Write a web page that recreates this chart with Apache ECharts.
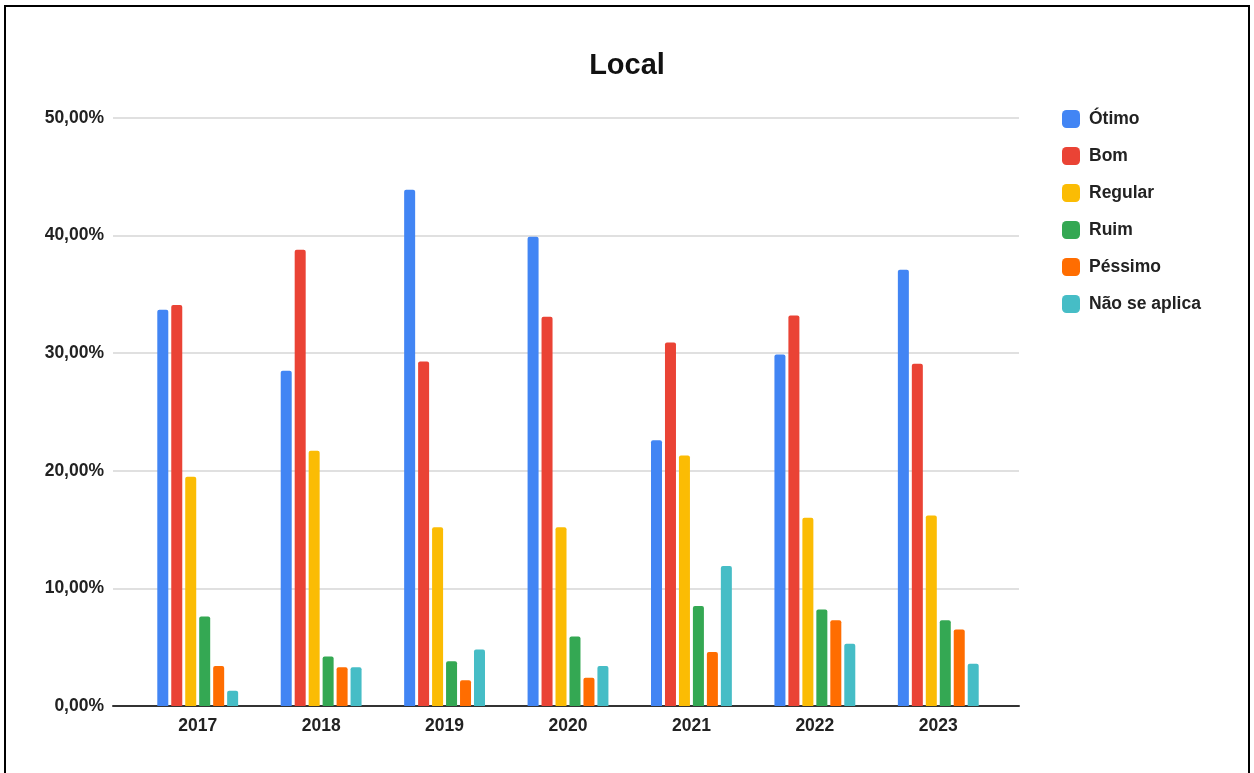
<!DOCTYPE html>
<html>
<head>
<meta charset="utf-8">
<title>Local</title>
<script src="https://cdn.jsdelivr.net/npm/echarts@6/dist/echarts.min.js"></script>
<style>
  html, body { margin: 0; padding: 0; background: #fff; }
  #chart { width: 1254px; height: 773px; }
</style>
</head>
<body>
<div id="chart"></div>
<script>
// Survey answers per year (percent of respondents)
const years = ['2017', '2018', '2019', '2020', '2021', '2022', '2023'];
const seriesNames = ['Ótimo', 'Bom', 'Regular', 'Ruim', 'Péssimo', 'Não se aplica'];
const otimo    = [33.7, 28.5, 43.9, 39.9, 22.6, 29.9, 37.1];
const bom      = [34.1, 38.8, 29.3, 33.1, 30.9, 33.2, 29.1];
const regular  = [19.5, 21.7, 15.2, 15.2, 21.3, 16.0, 16.2];
const ruim     = [7.6, 4.2, 3.8, 5.9, 8.5, 8.2, 7.3];
const pessimo  = [3.4, 3.3, 2.2, 2.4, 4.6, 7.3, 6.5];
const naoAplica = [1.3, 3.3, 4.8, 3.4, 11.9, 5.3, 3.6];
const yTicks = [0, 10, 20, 30, 40, 50];

const colors = ['#4285F4', '#EA4335', '#FBBC04', '#34A853', '#FF6D01', '#46BDC6'];
const values = [otimo, bom, regular, ruim, pessimo, naoAplica];
const FONT = 'Liberation Sans, Arial, sans-serif';

const fmt = v => v.toFixed(2).replace('.', ',') + '%';

const chart = echarts.init(document.getElementById('chart'), null, { renderer: 'canvas' });

const option = {
  backgroundColor: '#ffffff',
  animation: false,
  color: colors,
  textStyle: { fontFamily: FONT },
  title: {
    text: 'Local',
    left: 'center',
    top: 46,
    textStyle: { fontFamily: FONT, fontSize: 29, fontWeight: 'bold', color: '#111' }
  },
  legend: {
    orient: 'vertical',
    left: 1057,
    top: 105,
    itemWidth: 18,
    itemHeight: 18,
    itemGap: 19,
    icon: 'roundRect',
    data: seriesNames,
    textStyle: { fontFamily: FONT, fontSize: 17.5, fontWeight: 'bold', color: '#222', padding: [0, 0, 0, 4] }
  },
  graphic: [{
    type: 'rect',
    silent: true,
    shape: { x: 5, y: 6, width: 1244, height: 800 },
    style: { fill: 'none', stroke: '#000', lineWidth: 2 }
  }],
  grid: [
    // value scale with its gridlines spanning the full plot width
    { left: 113, right: 235, top: 118, bottom: 67 },
    // bars and category labels
    { left: 136, right: 254, top: 118, bottom: 67 }
  ],
  xAxis: [
    {
      type: 'category', gridIndex: 0, data: years,
      axisLine: { show: true, lineStyle: { color: '#333', width: 2 } },
      axisTick: { show: false }, axisLabel: { show: false }, splitLine: { show: false }
    },
    {
      type: 'category', gridIndex: 1, data: years,
      axisLine: { show: false }, axisTick: { show: false },
      axisLabel: { margin: 11, fontFamily: FONT, fontSize: 17.5, fontWeight: 'bold', color: '#222' }
    }
  ],
  yAxis: [
    {
      type: 'value', gridIndex: 0, min: yTicks[0], max: yTicks[yTicks.length - 1], interval: 10,
      axisLine: { show: false }, axisTick: { show: false },
      axisLabel: { margin: 9, fontFamily: FONT, fontSize: 17.5, fontWeight: 'bold', color: '#222', formatter: fmt },
      splitLine: { lineStyle: { color: '#d6d6d6', width: 1.5 } }
    },
    {
      type: 'value', gridIndex: 1, min: yTicks[0], max: yTicks[yTicks.length - 1], interval: 10,
      show: false, splitLine: { show: false }
    }
  ],
  series: seriesNames.map((name, i) => ({
    name,
    type: 'bar',
    xAxisIndex: 1,
    yAxisIndex: 1,
    data: values[i],
    barWidth: 11,
    barGap: '27%',
    itemStyle: { color: colors[i], borderRadius: [2, 2, 0, 0] }
  }))
};

chart.setOption(option);
</script>
</body>
</html>
